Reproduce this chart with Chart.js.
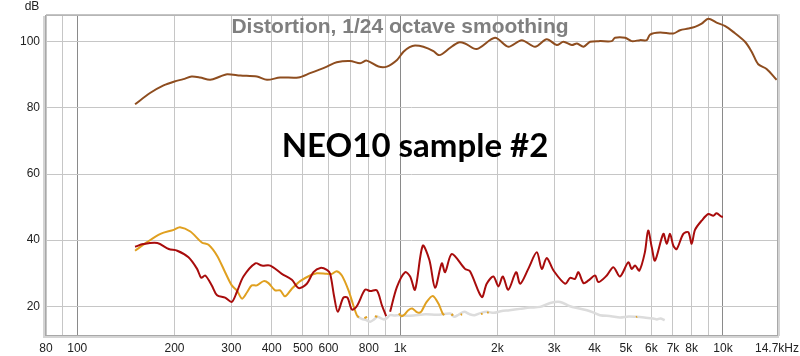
<!DOCTYPE html>
<html>
<head>
<meta charset="utf-8">
<script src="https://cdn.jsdelivr.net/npm/chart.js@4.4.1/dist/chart.umd.min.js"></script>
<style>
html,body{margin:0;padding:0;background:#fff;}
#wrap{width:800px;height:356px;position:relative;}
</style>
</head>
<body>
<div id="wrap"><canvas id="c" width="800" height="356"></canvas></div>
<script>
// ---- data ----
const fundFreq = [151,168,185,200,213,226,240,258,277,291,320,360,387,425,484,526,593,636,700,752,788,857,910,978,1024,1070,1112,1180,1268,1314,1350,1429,1517,1588,1726,1967,2163,2381,2618,2845,3056,3205,3402,3530,3699,3876,4160,4521,4630,4975,5214,5534,5806,5945,6384,7020,7359,7810,8186,8590,9003,9550,10130,10760,11700,12270,12860,13650,14660];
const fundDb   = [81.1,84.5,86.8,88,88.7,89.5,89.2,88.5,89.5,90.2,89.8,89.5,88.5,89.2,89.2,90.5,92.5,93.8,94.2,93.5,94.3,92.5,92.5,94.5,97,98.4,98.9,98.5,97.2,96,96.3,98.2,99.8,99.5,97.8,101.2,98.5,100.5,98.5,100.8,99,100,99,99.5,98.5,100,100.2,100.2,101.2,101.2,100.2,100.5,100.5,102.2,102.8,102.5,103.5,104,104.5,105.5,107,105.8,104.8,103,100,97,93.2,91.8,88.5];

const h2Freq = [151,160,177,192,204,221,235,242,249,261,271,287,301,312,327,356,373,396,430,462,485,514,539,566,593,607,625,641,667,687,709,734,779,808,847,878,905,915,931,977,1036,1074,1112,1175,1232,1283,1346,1378,1446,1588,1646,1790,1854,1945,2016,2080,2163,2287,2354,2494,2650,2746,2845,2986,3246,3360,3481,3566,3699,3833,4017,4112,4366,4576,4797,5090,5214,5342,5507,5729,5864,6019,6159,6535,6694,6854,7018,7188,7536,7810,8000,8190,8590,9005,9333,9553,9903,10000];
const h2Db   = [38.0,38.8,39.1,37.3,36.8,34.8,31.3,28.6,29.3,26.3,23.3,22.6,21.3,24.3,29,33,32.3,32.3,29.8,28,25.5,26.8,30.3,31.6,31,29.8,22.8,18.3,22.6,22.6,19,20,25,24.6,24.8,20.3,17,null,18.3,25.8,30.3,29,25,38.3,34,25.6,33,30.3,35.8,31.3,30.6,22.8,26.8,29,26,29,25,30.3,26.8,31.3,36.3,31.3,34.6,30.8,26.8,28.6,28.3,30.3,27,27.8,29.3,27.3,29.3,31.8,29,33.3,31.3,32.3,30.8,36.3,42.9,37.8,33.8,41.9,38.9,41.9,38.3,37.3,41.9,42.4,38.9,43.1,45.9,47.9,47.4,48.1,47.1,47.1];

const h3Freq = [151,164,181,199,208,224,243,255,271,287,301,312,324,336,347,360,378,391,410,425,440,462,490,526,552,593,615,636,660,692,716,734,745,760,775,790,805,835,850,870,990,1010,1030,1060,1090,1123,1145,1165,1208,1262,1314,1354,1370,1390,1440,1460,1480,1540,1555,1570,1780,1800,1820,1860,1880,1900,5380,5420,5440];
const h3Db   = [36.8,39.3,41.9,43.1,43.9,42.6,39.3,38.6,35.3,30.3,26.3,24.8,22.3,24.3,26.3,26.3,27.6,27,24.8,24.8,23,25.3,27.6,29.3,30,29.8,29.8,30.6,29.3,24.8,20.3,17.3,16.6,null,16.4,16.8,null,17,16.8,null,17.8,17,17.4,18.8,19.3,18.3,18,18.5,21.3,23.1,20.8,17.8,17.3,null,17.2,17.6,null,17.4,17.6,null,17.6,17.8,null,18,18.2,null,16.7,16.9,null];

const h4Freq = [734,760,785,808,830,850,867,890,910,931,960,1000,1050,1100,1200,1300,1429,1470,1520,1580,1640,1700,1780,1860,1950,2050,2180,2350,2525,2714,2918,3130,3360,3560,3790,4000,4160,4500,4797,5100,5390,5700,6080,6244,6400,6600];
const h4Db   = [17,16.2,15.8,15.3,16,16.8,16.5,16,16.4,17.3,17.2,17.3,17.1,17.2,17.6,17.4,17.8,16.8,17.5,18.3,17.6,17.3,18,18.3,18,18.5,18.8,19.2,19.6,19.8,21,21.3,20,19.4,18.8,18,17.3,17,16.6,16.9,16.8,16.6,16.3,16,16.3,15.8];

const xTickValues = [80,90,100,200,300,400,500,600,700,800,900,1000,2000,3000,4000,5000,6000,7000,8000,9000,10000,14700];
const xTickLabels = ['80','','100','200','300','400','500','600','','800','','1k','2k','3k','4k','5k','6k','7k','8k','','10k','14.7kHz'];
const xMajorTicks = [100,1000,10000];
const yTickValues = [20,40,60,80,100];

const titleText = 'Distortion, 1/24 octave smoothing';
const noteText = 'NEO10 sample #2';
const yUnit = 'dB';

// ---- build ----
const pts = (fs, ds) => fs.map((f, i) => ({x: f, y: ds[i]}));

const textPlugin = {
  id: 'deco',
  beforeDatasetsDraw(chart) {
    const ctx = chart.ctx;
    ctx.save();
    ctx.textAlign = 'center';
    ctx.textBaseline = 'alphabetic';
    ctx.fillStyle = '#7f7f7f';
    ctx.font = 'bold 21px "Liberation Sans", Arial, sans-serif';
    ctx.fillText(titleText, 400, 33);
    ctx.fillStyle = '#000';
    ctx.font = 'bold 33px Lato, "Open Sans", sans-serif';
    ctx.fillText(noteText, 415, 157);
    ctx.restore();
  },
  afterDraw(chart) {
    const ctx = chart.ctx;
    const a = chart.chartArea;
    ctx.save();
    // frame
    ctx.fillStyle = '#d4d4d4';
    ctx.fillRect(a.left - 3, a.top, 3, a.bottom - a.top + 3);
    ctx.fillRect(a.left - 3, a.bottom, a.right - a.left + 5, 3);
    ctx.fillRect(a.right, a.top - 2, 3, a.bottom - a.top + 3);
    ctx.strokeStyle = '#a8a8a8';
    ctx.lineWidth = 1;
    ctx.strokeRect(a.left - 0.5, a.top - 0.5, a.right - a.left + 1, a.bottom - a.top + 1);
    ctx.fillStyle = '#c4c4c4';
    ctx.fillRect(a.left, a.top - 2, a.right - a.left, 1.5);
    // unit
    ctx.fillStyle = '#222';
    ctx.font = '12px "Liberation Sans", Arial, sans-serif';
    ctx.textAlign = 'center';
    ctx.textBaseline = 'middle';
    ctx.fillText(yUnit, 32, 7);
    ctx.restore();
  }
};

new Chart(document.getElementById('c'), {
  type: 'line',
  data: {
    datasets: [
      {label: 'Fundamental', data: pts(fundFreq, fundDb), borderColor: '#8e4d1f', borderWidth: 2},
      {label: 'H2', data: pts(h2Freq, h2Db), borderColor: '#a80c0c', borderWidth: 2},
      {label: 'H3', data: pts(h3Freq, h3Db), borderColor: '#e0a020', borderWidth: 2},
      {label: 'H4', data: pts(h4Freq, h4Db), borderColor: '#dcdcdc', borderWidth: 2.5}
    ]
  },
  options: {
    responsive: false,
    animation: false,
    devicePixelRatio: 1,
    spanGaps: false,
    layout: {padding: {top: 16, right: 23, left: 0, bottom: 0}},
    elements: {point: {radius: 0}, line: {tension: 0.3, fill: false}},
    plugins: {legend: {display: false}, tooltip: {enabled: false}, title: {display: false}},
    scales: {
      x: {
        type: 'logarithmic',
        min: 80, max: 14700,
        afterBuildTicks: (s) => { s.ticks = xTickValues.map(v => ({value: v})); },
        afterFit: (s) => { s.height = 21; s.paddingLeft = 0; s.paddingRight = 0; },
        ticks: {
          autoSkip: false, maxRotation: 0, minRotation: 0, padding: 6,
          color: '#222', font: {family: '"Liberation Sans", Arial, sans-serif', size: 12},
          callback: (v, i) => xTickLabels[i]
        },
        grid: {
          drawTicks: false,
          color: (c) => (c.tick && xMajorTicks.includes(c.tick.value)) ? '#8a8a8a' : '#c6c6c6',
          lineWidth: 1
        },
        border: {display: false}
      },
      y: {
        type: 'linear',
        min: 11.3, max: 107.8,
        afterBuildTicks: (s) => { s.ticks = yTickValues.map(v => ({value: v})); },
        afterFit: (s) => { s.width = 46; s.paddingTop = 0; s.paddingBottom = 0; },
        ticks: {
          padding: 6, color: '#222',
          font: {family: '"Liberation Sans", Arial, sans-serif', size: 12},
          callback: (v) => String(v)
        },
        grid: {drawTicks: false, color: '#c6c6c6', lineWidth: 1},
        border: {display: false}
      }
    }
  },
  plugins: [textPlugin]
});
</script>
</body>
</html>
